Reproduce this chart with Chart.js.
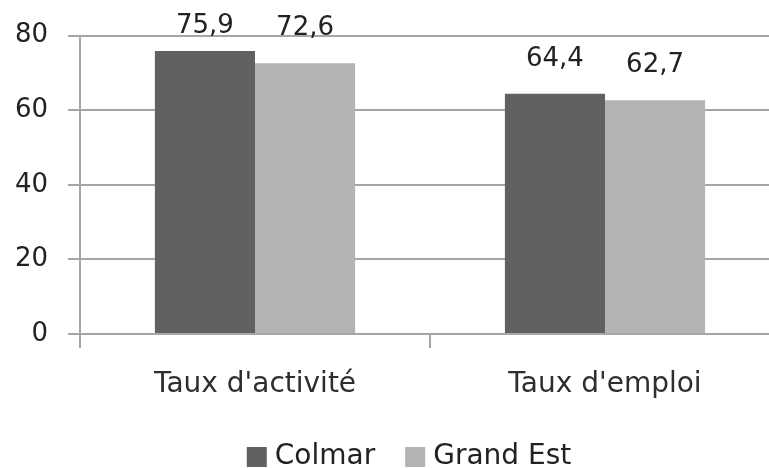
<!DOCTYPE html>
<html><head><meta charset="utf-8">
<script src="https://cdn.jsdelivr.net/npm/chart.js@4/dist/chart.umd.min.js"></script>
<style>html,body{margin:0;padding:0;overflow:hidden;background:#fff}#wrap{width:818px;height:468px;position:relative}</style>
</head><body><div id="wrap"><canvas id="c" width="818" height="468"></canvas></div>
<script>
const categories = ["Taux d'activité", "Taux d'emploi"];
const colmar = [75.9, 64.4];
const grandEst = [72.6, 62.7];
const seriesNames = ["Colmar", "Grand Est"];
const yTicks = [0, 20, 40, 60, 80];

const FONT = "'DejaVu Sans', sans-serif";
const fmt = v => String(v).replace('.', ',');

const labelPlugin = {
  id: 'vlabels',
  afterDatasetsDraw(chart) {
    const ctx = chart.ctx;
    ctx.save();
    ctx.font = "26px " + FONT;
    ctx.fillStyle = '#222';
    ctx.textAlign = 'center';
    ctx.textBaseline = 'middle';
    chart.data.datasets.forEach((ds, i) => {
      chart.getDatasetMeta(i).data.forEach((bar, j) => {
        const y = Math.max(bar.y - 35, 26);
        ctx.fillText(fmt(ds.data[j]), bar.x, y);
      });
    });
    ctx.restore();
  }
};

const legendPlugin = {
  id: 'customLegend',
  afterDraw(chart) {
    const ctx = chart.ctx;
    ctx.save();
    ctx.font = "28px " + FONT;
    ctx.textBaseline = 'middle';
    ctx.textAlign = 'left';
    const box = 20, gap = 8, itemGap = 30, cy = 457;
    const items = chart.data.datasets.map(ds => ({ text: ds.label, color: ds.backgroundColor, w: ctx.measureText(ds.label).width }));
    let total = 0;
    items.forEach((it, k) => { total += box + gap + it.w + (k ? itemGap : 0); });
    let x = chart.width / 2 - total / 2;
    items.forEach(it => {
      ctx.fillStyle = it.color;
      ctx.fillRect(x, cy - box / 2, box, box);
      x += box + gap;
      ctx.fillStyle = '#222';
      ctx.fillText(it.text, x, cy);
      x += it.w + itemGap;
    });
    ctx.restore();
  }
};

new Chart(document.getElementById('c'), {
  type: 'bar',
  data: {
    labels: categories,
    datasets: [
      { label: seriesNames[0], data: colmar, backgroundColor: '#616161', borderWidth: 0 },
      { label: seriesNames[1], data: grandEst, backgroundColor: '#b3b3b3', borderWidth: 0 }
    ]
  },
  options: {
    responsive: false,
    animation: false,
    devicePixelRatio: 1,
    layout: { padding: { top: 34, right: 38, left: 0, bottom: 0 } },
    datasets: { bar: { categoryPercentage: 0.572, barPercentage: 1 } },
    plugins: {
      legend: { display: false },
      tooltip: { enabled: false }
    },
    scales: {
      x: {
        grid: { drawOnChartArea: false, drawTicks: true, tickLength: 14, color: '#a6a6a6', lineWidth: 2, offset: true },
        border: { display: true, color: '#a6a6a6', width: 2 },
        ticks: { font: { family: FONT, size: 28 }, color: '#2e2e2e', padding: 20 },
        afterFit(s) { s.height = 134; }
      },
      y: {
        min: 0, max: 80,
        afterBuildTicks(s) { s.ticks = yTicks.map(v => ({ value: v })); },
        grid: { color: '#a6a6a6', lineWidth: 2, tickLength: 12 },
        border: { display: true, color: '#a6a6a6', width: 2 },
        ticks: { font: { family: FONT, size: 26 }, color: '#222', padding: 20 },
        afterFit(s) { s.width = 80; }
      }
    }
  },
  plugins: [labelPlugin, legendPlugin]
});
</script></body></html>
